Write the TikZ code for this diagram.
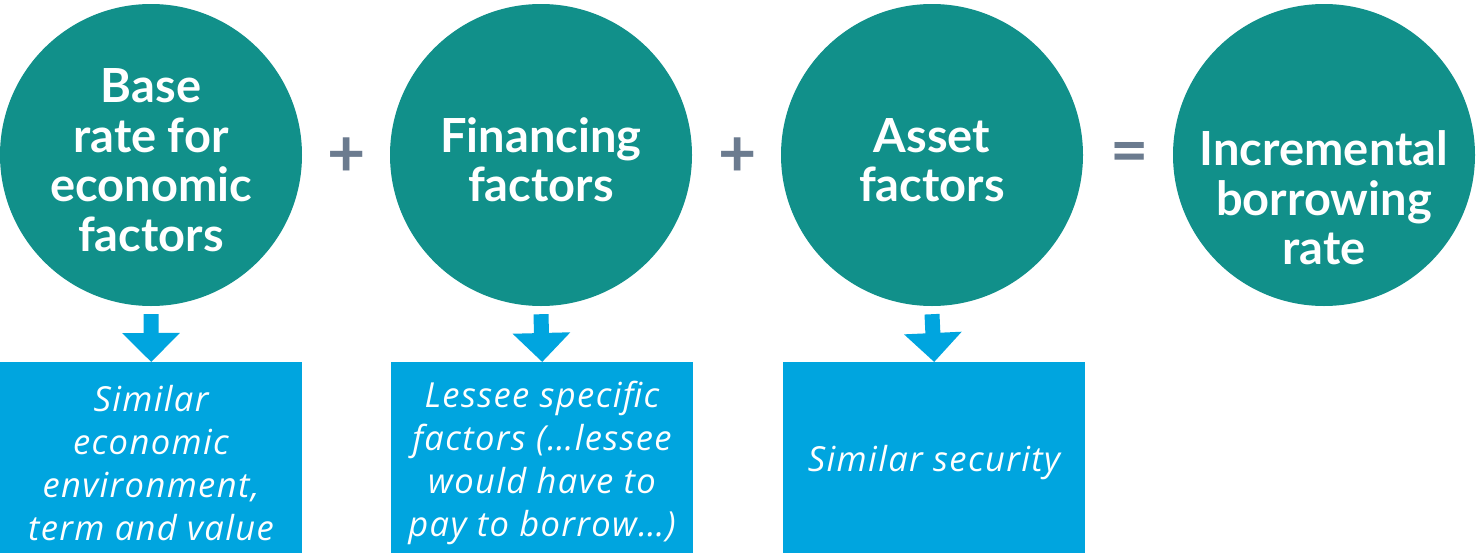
\documentclass[tikz,border=0pt]{standalone}
\usepackage{fontspec}
\setmainfont{Lato}
\newfontfamily\boxfont[LetterSpace=4]{Open Sans}
\usetikzlibrary{arrows.meta}
\definecolor{teal}{RGB}{17,144,138}
\definecolor{boxblue}{RGB}{0,165,223}
\definecolor{opgray}{RGB}{107,123,143}
\tikzset{
  bubble/.style={circle, fill=teal, minimum size=302pt, inner sep=0pt},
  bubbletext/.style={text=white, align=center, font=\fontsize{47}{49.5}\selectfont\bfseries},
  infobox/.style={rectangle, fill=boxblue, minimum width=302pt, minimum height=191pt, inner sep=0pt, anchor=north west},
  infotext/.style={text=white, align=center, font=\boxfont\fontsize{34.5}{43}\selectfont\itshape},
  downarrow/.style={draw=boxblue, line width=15pt, -{Triangle[width=56pt,length=29pt]}},
  opsign/.style={text=opgray, font=\fontsize{66}{66}\selectfont\bfseries}
}
\begin{document}
\begin{tikzpicture}[x=1pt,y=-1pt]
\useasboundingbox (0,0) rectangle (1476,555);
% boxes
\node[infobox] (b1) at (0,362) {};
\node[infobox] (b2) at (391,362) {};
\node[infobox] (b3) at (783,362) {};
% circles
\node[bubble] (c1) at (151,155) {};
\node[bubble] (c2) at (541,155) {};
\node[bubble] (c3) at (932,155) {};
\node[bubble] (c4) at (1324,155) {};
% arrows
\draw[downarrow] ([yshift=-8pt]c1.south) -- (b1.north);
\draw[downarrow] ([yshift=-8pt]c2.south) -- (b2.north);
\draw[downarrow] ([yshift=-8pt]c3.south) -- (b3.north);
% circle texts
\node[bubbletext] (t1) at (151,160) {Base\\rate for\\economic\\factors};
\node[bubbletext] (t2) at (541,160) {Financing\\factors};
\node[bubbletext] (t3) at (932,160) {Asset\\factors};
\node[bubbletext] (t4) at (1324,198) {Incremental\\borrowing\\rate};
% box texts
\node[infotext] (s1) at (151,463) {Similar\\economic\\environment,\\term and value};
\node[infotext] (s2) at (542,463) {Lessee specific\\factors (…lessee\\would have to\\pay to borrow…)};
\node[infotext] (s3) at (934,463) {Similar security};
% operators
\node[opsign] (p1) at (347,157) {+};
\node[opsign] (p2) at (738,157) {+};
\node[opsign] (eq) at (1130,158) {=};
\end{tikzpicture}
\end{document}
